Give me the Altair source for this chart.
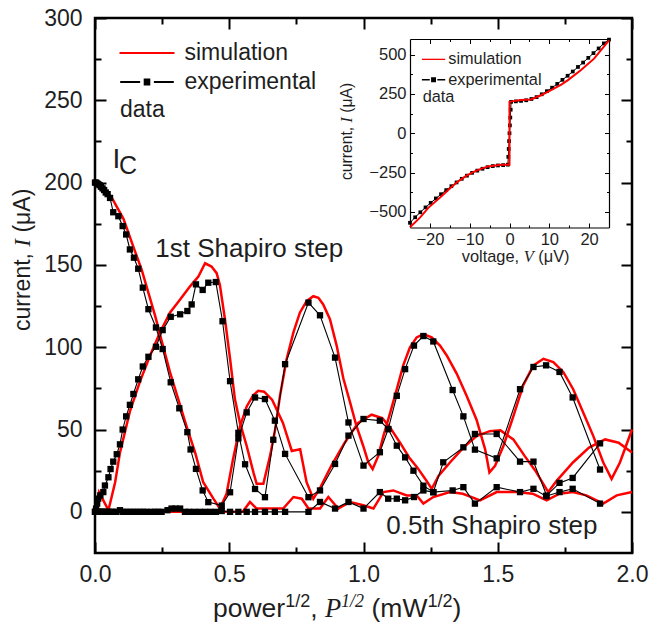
import altair as alt
import pandas as pd

# ---------------- main panel: simulation (red) ----------------
sim_ic_x = [0.0, 0.03, 0.062, 0.106, 0.143, 0.174, 0.199, 0.224, 0.248, 0.279, 0.31, 0.341, 0.373, 0.403,
            0.441, 0.465, 0.49, 0.514, 0.54, 0.565, 0.59, 0.608, 0.63, 0.66, 0.70, 0.733, 0.764, 0.788,
            0.813, 0.84, 0.88, 0.93, 0.98, 1.03, 1.07, 1.10, 1.136, 1.17, 1.2, 1.23, 1.254, 1.28, 1.322,
            1.372, 1.421, 1.47, 1.51, 1.558, 1.6, 1.64, 1.688, 1.72, 1.78, 1.84, 1.9, 1.95, 2.0]
sim_ic_y = [200, 197, 191, 178, 161, 147, 133, 119, 104, 85, 68.5, 52, 36, 18,
            8, 2, 11, 32, 52, 64, 71, 73.5, 73, 68, 54, 37, 38, 18,
            8, 15, 28, 42, 54, 59, 57, 51, 42, 33, 27, 20, 14, 22, 30,
            39, 46, 49, 49.5, 44, 34, 25, 12, 19, 30, 39, 44, 42, 36]

sim_s1_x = [0.0, 0.015, 0.05, 0.075, 0.093, 0.13, 0.167, 0.205, 0.242, 0.279, 0.317, 0.354, 0.385, 0.41,
            0.434, 0.453, 0.465, 0.484, 0.503, 0.521, 0.54, 0.565, 0.59, 0.602, 0.627, 0.652, 0.671,
            0.689, 0.714, 0.739, 0.763, 0.788, 0.813, 0.832, 0.85, 0.875, 0.9, 0.925, 0.95, 0.974,
            0.999, 1.018, 1.034, 1.055, 1.074, 1.099, 1.124, 1.148, 1.173, 1.198, 1.223, 1.254, 1.285,
            1.31, 1.347, 1.384, 1.421, 1.453, 1.469, 1.49, 1.521, 1.558, 1.595, 1.633, 1.67, 1.707,
            1.744, 1.781, 1.819, 1.856, 1.893, 1.924, 1.955, 2.0]
sim_s1_y = [0, 12, 1, 18, 36, 61, 79, 95, 109, 121, 129, 137, 143, 151,
            149, 145, 138, 117, 93, 68.5, 54, 40, 24, 17, 17, 34, 50,
            70.5, 93, 109, 121, 128, 131, 130, 126, 117, 101, 81, 66.5, 52,
            40, 30, 26, 34, 46, 60, 74.5, 89, 100, 106, 108, 106, 101,
            95, 84, 70.5, 56, 38, 24, 28, 40, 58, 77, 89, 93, 91,
            85, 74.5, 60, 46, 30, 20, 30, 50]

sim_half_x = [0.0, 0.3, 0.55, 0.577, 0.602, 0.701, 0.739, 0.77, 0.795, 0.838, 0.869, 0.906, 0.95, 0.999,
              1.037, 1.074, 1.111, 1.161, 1.198, 1.223, 1.26, 1.322, 1.37, 1.434, 1.496, 1.57, 1.63,
              1.682, 1.73, 1.78, 1.83, 1.893, 1.943, 2.0]
sim_half_y = [0, 0, 0, 6, 2, 2, 9, 8, 2, 2, 9, 2, 6, 4,
              2, 12, 13, 10, 10, 5, 9, 12, 11, 7, 12, 12, 11,
              7, 11, 12, 10, 5, 10, 12]

# ---------------- main panel: experimental data (black squares) ----------------
exp_ic_x = [0.0, 0.004, 0.008, 0.012, 0.017, 0.022, 0.028, 0.034, 0.04, 0.047, 0.056, 0.068, 0.087,
            0.103, 0.116, 0.13, 0.145, 0.161, 0.178, 0.199, 0.227, 0.252, 0.282, 0.314, 0.344, 0.356,
            0.376, 0.401, 0.422, 0.472, 0.503, 0.534, 0.565, 0.596, 0.633, 0.67, 0.708, 0.795, 0.838,
            0.894, 0.944, 1.0, 1.061, 1.092, 1.124, 1.155, 1.186, 1.223, 1.26, 1.297, 1.372, 1.415,
            1.496, 1.583, 1.633, 1.682, 1.73, 1.779, 1.881]
exp_ic_y = [200, 200, 199.5, 199, 198.5, 197.5, 196.5, 195.5, 194, 193, 190.7, 182, 179.6,
            173.6, 168.5, 159.4, 154.4, 147.7, 136.2, 123.1, 112, 98.9, 78.7, 62.9, 48.4, 37.9,
            26.1, 13, 5.9, 3.8, 11.9, 44.6, 60.4, 69.5, 68.5, 55.4, 35.2, 8.9, 13,
            29.1, 46.3, 56.4, 55.4, 50.3, 40.2, 33.1, 25, 15.9, 11.9, 30.1, 39.2, 47.3,
            47.3, 30.5, 30.5, 9.9, 17.6, 20.6, 41.6]

exp_s1_x = [0.0, 0.004, 0.008, 0.012, 0.02, 0.031, 0.037, 0.05, 0.058, 0.068, 0.081, 0.093, 0.103,
            0.116, 0.13, 0.143, 0.161, 0.178, 0.199, 0.227, 0.252, 0.282, 0.317, 0.344, 0.36, 0.376,
            0.401, 0.422, 0.45, 0.475, 0.503, 0.534, 0.559, 0.596, 0.633, 0.664, 0.708, 0.795, 0.838,
            0.894, 0.944, 1.0, 1.061, 1.092, 1.124, 1.155, 1.188, 1.223, 1.26, 1.332, 1.372, 1.415,
            1.496, 1.583, 1.633, 1.68, 1.73, 1.779, 1.881]
exp_s1_y = [0, 2, 5, 8, 10, 12, 16, 21, 26, 30.5, 35, 41, 50,
            58, 65, 71.6, 80.5, 88.3, 94.2, 100.3, 110.4, 118.5, 120, 122, 126, 138.2,
            134.8, 139.2, 139.6, 115.8, 79.4, 48, 28.9, 13.9, 8.9, 43.8, 89.7, 127.1, 119.4,
            93.7, 54.3, 28.1, 36.2, 50.3, 70.5, 86.7, 101, 106.8, 103.5, 74, 58, 37.8,
            32.5, 74.5, 88, 89, 85, 69.5, 25.7]

exp_half_x = [0.0, 0.004, 0.008, 0.012, 0.016, 0.02, 0.025, 0.031, 0.037, 0.043, 0.05, 0.059, 0.068,
              0.08, 0.093, 0.105, 0.118, 0.13, 0.143, 0.155, 0.168, 0.18, 0.192, 0.21, 0.223, 0.235,
              0.248, 0.27, 0.285, 0.3, 0.317, 0.335, 0.35, 0.37, 0.39, 0.41, 0.43, 0.45, 0.472, 0.503,
              0.534, 0.565, 0.596, 0.633, 0.67, 0.708, 0.795, 0.838, 0.894, 0.944, 1.0, 1.061, 1.092,
              1.124, 1.155, 1.188, 1.223, 1.26, 1.332, 1.372, 1.415, 1.496, 1.583, 1.633, 1.68, 1.73,
              1.779, 1.881]
exp_half_y = [0, 0, 0, 0, 0, 0, 0, 0, 0, 0, 0, 0, 0,
              0, 1, 0, 0, 0, 0, 0, 0, 0, 0, 0, 0, 0,
              0, 1, 2, 2, 2, 0, 0, 0, 0, 0, 0, 0, 0.5, 0,
              0, 0, 0, 0, 0, 0, 0, 6, 2, 6, 2, 12, 8,
              8, 7, 9, 13, 12, 13, 15, 5, 15, 12, 14, 9.5, 12,
              14, 5]

# ---------------- inset: I-V curve ----------------
inset_sim_v = [-25, -22.5, -20.4, -17.1, -15, -12.9, -10.8, -8.75, -7, -5.4, -3.5, -2.1, -0.5, 0, 0,
               0.5, 2.9, 5.4, 7.9, 9.5, 11.25, 13, 14.6, 17.9, 21.25, 25]
inset_sim_i = [-598, -537, -475, -401, -352, -306, -270, -243, -225, -211, -205, -201, -200, -200, 200,
               203, 211, 215, 242, 262, 285, 310, 337, 401, 475, 592]

inset_exp_v = [-25, -23.7, -22.4, -21.1, -19.8, -18.5, -17.2, -15.9, -14.6, -13.3, -12, -10.7, -9.4,
               -8.1, -6.8, -5.5, -4.2, -2.9, -1.6, -0.4, -0.3, -0.2, -0.1, 0, 0.1, 0.2, 0.3, 0.4,
               1.6, 2.9, 4.2, 5.5, 6.8, 8.1, 9.4, 10.7, 12, 13.3, 14.6, 15.9, 17.2, 18.5, 19.8,
               21.1, 22.4, 23.7, 25]
inset_exp_i = [-570, -535, -503, -472, -443, -415, -388, -362, -337, -313, -290, -270, -252,
               -238, -226, -216, -209, -205, -203, -200, -150, -100, -50, 0, 50, 100, 150, 200,
               203, 206, 210, 218, 230, 248, 268, 290, 314, 340, 366, 393, 422, 450, 480,
               510, 540, 572, 596]

legend_labels = ["simulation", "experimental"]

# ---------------- styling / layout ----------------
INK = "#1e1e1e"
RED = "#ff0000"
SANS = "Liberation Sans"
SERIF = "Liberation Serif"
W, H = 537, 535


def series(xs, ys, name):
    return pd.DataFrame({"x": xs, "y": ys, "step": name})


def stack(parts):
    df = pd.concat(parts, ignore_index=True)
    df["order"] = range(len(df))
    return df


sim_df = stack([series(sim_ic_x, sim_ic_y, "ic"), series(sim_s1_x, sim_s1_y, "s1"),
                series(sim_half_x, sim_half_y, "half")])
exp_df = stack([series(exp_ic_x, exp_ic_y, "ic"), series(exp_s1_x, exp_s1_y, "s1"),
                series(exp_half_x, exp_half_y, "half")])
isim_df = stack([series(inset_sim_v, inset_sim_i, "sim")])
iexp_df = stack([series(inset_exp_v, inset_exp_i, "exp")])
one = pd.DataFrame({"k": [0]})
host_df = pd.DataFrame({"v": [0.0]})

mx = alt.Scale(domain=[0, 2], nice=False, zero=False)
my = alt.Scale(domain=[-25, 300], nice=False, zero=False)
ix = alt.Scale(domain=[-25, 25], range=[315, 514], nice=False, zero=False)
iy = alt.Scale(domain=[-600, 600], range=[209.5, 21], nice=False, zero=False)


def label_axis(orient, values, size, pad, offset=0, domain=False, fmt=None):
    kw = dict(orient=orient, values=values, labelFontSize=size, labelFont=SANS, labelColor=INK,
              labelPadding=pad, ticks=False, tickSize=0, domain=domain, grid=False, title=None,
              labelFlush=False, offset=offset, domainColor="black", domainWidth=1.2)
    if fmt:
        kw["format"] = fmt
    return alt.Axis(**kw)


ax_mx = label_axis("bottom", [0, 0.5, 1, 1.5, 2], 23, 10, fmt=".1f")
ax_my = label_axis("left", [0, 50, 100, 150, 200, 250, 300], 23, 13)
ax_ix = label_axis("bottom", [-20, -10, 0, 10, 20], 16.5, 4, offset=-(H - 209.5), domain=True)
ax_iy = label_axis("left", [-500, -250, 0, 250, 500], 16.5, 4, offset=-315, domain=True)

MX = alt.X("x:Q", scale=mx, axis=ax_mx)
MY = alt.Y("y:Q", scale=my, axis=ax_my)
IX = alt.X("x:Q", scale=ix, axis=ax_ix)
IY = alt.Y("y:Q", scale=iy, axis=ax_iy)


def note(text, xv, yv, size, sx, sy, axx, axy, font=SANS):
    return alt.Chart(one).mark_text(text=text, fontSize=size, font=font, color=INK, align="left",
                                    baseline="alphabetic").encode(
        x=alt.XDatum(xv, scale=sx, axis=axx), y=alt.YDatum(yv, scale=sy, axis=axy))


# main panel
sim_lines = alt.Chart(sim_df).mark_line(color=RED, strokeWidth=2.5).encode(
    MX, MY, detail="step:N", order="order:Q")
exp_lines = alt.Chart(exp_df).mark_line(color="black", strokeWidth=1.1).encode(
    MX, MY, detail="step:N", order="order:Q")
exp_pts = alt.Chart(exp_df).mark_square(color="black", size=40, opacity=1).encode(MX, MY)
main = alt.layer(
    sim_lines, exp_lines, exp_pts,
    note("I", 0.065, 209, 28, mx, my, ax_mx, ax_my),
    note("C", 0.089, 205, 25, mx, my, ax_mx, ax_my),
    note("1st Shapiro step", 0.2245, 155, 26, mx, my, ax_mx, ax_my),
    note("0.5th Shapiro step", 1.085, -13.5, 26, mx, my, ax_mx, ax_my),
    note("data", 0.093, 240, 23, mx, my, ax_mx, ax_my),
)

# inset panel
i_exp_line = alt.Chart(iexp_df).mark_line(color="black", strokeWidth=1).encode(IX, IY, order="order:Q")
i_exp_pts = alt.Chart(iexp_df).mark_square(color="black", size=14, opacity=1).encode(IX, IY)
i_sim_line = alt.Chart(isim_df).mark_line(color=RED, strokeWidth=2).encode(IX, IY, order="order:Q")
inset = alt.layer(i_exp_line, i_exp_pts, i_sim_line,
                  note("data", -21.8, 198, 16.3, ix, iy, ax_ix, ax_iy))


# inward ticks / frames
def tick_host(channel, scale, orient, offset, values, size, width, domain=False):
    ax = alt.Axis(orient=orient, offset=offset, values=values, tickSize=size, tickWidth=width,
                  tickColor="black", labels=False, domain=domain, domainColor="black",
                  domainWidth=1.2, grid=False, title=None)
    enc = alt.X("v:Q", scale=scale, axis=ax) if channel == "x" else alt.Y("v:Q", scale=scale, axis=ax)
    return alt.Chart(host_df).mark_point(opacity=0).encode(**{channel: enc})


mxM, mxm = [0, 0.5, 1, 1.5, 2], [0.25, 0.75, 1.25, 1.75]
myM, mym = [0, 50, 100, 150, 200, 250, 300], [25, 75, 125, 175, 225, 275]
ixM, ixm = [-20, -10, 0, 10, 20], [-15, -5, 5, 15]
iyM, iym = [-500, -250, 0, 250, 500], [-375, -125, 125, 375]

hosts = [
    tick_host("x", mx, "top", -H, mxM, 11, 2), tick_host("x", mx, "top", -H, mxm, 6, 2),
    tick_host("x", mx, "bottom", -H, mxM, 11, 2), tick_host("x", mx, "bottom", -H, mxm, 6, 2),
    tick_host("y", my, "right", -W, myM, 11, 2), tick_host("y", my, "right", -W, mym, 6, 2),
    tick_host("y", my, "left", -W, myM, 11, 2), tick_host("y", my, "left", -W, mym, 6, 2),
    tick_host("x", ix, "top", -209.5, ixM, 4.5, 1), tick_host("x", ix, "top", -209.5, ixm, 2.5, 1),
    tick_host("x", ix, "bottom", 21 - H, ixM, 4.5, 1, domain=True),
    tick_host("x", ix, "bottom", 21 - H, ixm, 2.5, 1),
    tick_host("y", iy, "right", 315 - W, iyM, 4.5, 1), tick_host("y", iy, "right", 315 - W, iym, 2.5, 1),
    tick_host("y", iy, "left", -514, iyM, 4.5, 1, domain=True),
    tick_host("y", iy, "left", -514, iym, 2.5, 1),
]

# legends (symbols are custom paths: a red line, and line-square-line)
sq = "M-0.48,-0.35H0.48M-0.48,-0.12H0.48M-0.48,0.12H0.48M-0.48,0.35H0.48"
main_paths = ["M-4,0H4", "M-3.9,0H-1M1,0H3.9" + sq]
sq_i = "M-0.85,-0.6H0.85M-0.85,-0.2H0.85M-0.85,0.2H0.85M-0.85,0.6H0.85"
inset_paths = ["M-4,0H4", "M-4,0H-1.3M1.3,0H4" + sq_i]


def legend_layer(field, paths, lx, ly, size, font, offset, rowpad, sw):
    df = pd.DataFrame({field: legend_labels})
    lg = alt.Legend(orient="none", legendX=lx, legendY=ly, title=None, symbolSize=size,
                    symbolStrokeWidth=sw, symbolOpacity=1, labelFontSize=font, labelFont=SANS,
                    labelColor=INK, labelOffset=offset, rowPadding=rowpad, padding=0)
    return alt.Chart(df).mark_point(filled=False, opacity=0).encode(
        color=alt.Color(f"{field}:N", scale=alt.Scale(domain=legend_labels, range=[RED, "black"]), legend=lg),
        shape=alt.Shape(f"{field}:N", scale=alt.Scale(domain=legend_labels, range=paths), legend=lg),
    )


leg_main = legend_layer("series_main", main_paths, 40.5, 23.5, 189, 23, 26, 5, 2)
leg_inset = legend_layer("series_inset", inset_paths, 330.4, 33.2, 34, 16.3, 6.6, 3.4, 1.3)

# axis titles assembled from pieces (superscripts, italic symbols); None = a word space
AW = {"p": 556, "o": 556, "w": 722, "e": 556, "r": 333, ",": 278, " ": 278, "(": 333, ")": 333,
      "m": 833, "W": 944, "1": 556, "/": 278, "2": 556, "c": 500, "u": 556, "n": 556, "t": 278,
      "\u03bc": 576, "A": 667, "v": 500, "l": 222, "a": 556, "g": 556, "V": 667}
TW = {"P": 611, "I": 333, "V": 611, "1": 500, "/": 278, "2": 500}


def text_width(s, size, italic):
    table = TW if italic else AW
    return sum(table.get(ch, 556) for ch in s) * size / 1000.0


def title_pieces(pieces, x0, y0, rotate=False):
    out, off = [], 0.0
    for text, size, italic, rise in pieces:
        if text is None:
            off += 0.278 * size
            continue
        kw = dict(text=text, fontSize=size, font=SERIF if italic else SANS,
                  fontStyle="italic" if italic else "normal", align="left",
                  baseline="alphabetic", color=INK)
        if rotate:
            kw["angle"] = 270
            x, y = x0 - rise, y0 - off
        else:
            x, y = x0 + off, y0 - rise
        out.append(alt.Chart(one).mark_text(**kw).encode(x=alt.value(x), y=alt.value(y)))
        off += text_width(text, size, italic)
    return out


titles = []
titles += title_pieces([("power", 26.5, False, 0), ("1/2", 18, False, 10.5), (",", 26.5, False, 0),
                        (None, 26.5, False, 0), ("P", 26.5, True, 0), ("1/2", 18, True, 10.5),
                        (None, 26.5, False, 0), ("(mW", 26.5, False, 0), ("1/2", 18, False, 10.5),
                        (")", 26.5, False, 0)], 118, 599)
titles += title_pieces([("current,", 23, False, 0), (None, 23, False, 0), ("I", 23, True, 0),
                        (None, 23, False, 0), ("(\u03bcA)", 23, False, 0)], -65, 313, rotate=True)
titles += title_pieces([("current,", 15.7, False, 0), (None, 15.7, False, 0), ("I", 15.7, True, 0),
                        (None, 15.7, False, 0), ("(\u03bcA)", 15.7, False, 0)], 257, 162, rotate=True)
titles += title_pieces([("voltage,", 16.4, False, 0), (None, 16.4, False, 0), ("V", 16.4, True, 0),
                        (None, 16.4, False, 0), ("(\u03bcV)", 16.4, False, 0)], 366.7, 243.5)

chart = alt.layer(main, *hosts, inset, leg_main, leg_inset, *titles).resolve_scale(
    x="independent", y="independent", color="independent", shape="independent"
).resolve_axis(x="independent", y="independent").resolve_legend(
    color="independent", shape="independent"
).properties(
    width=W, height=H, autosize=alt.AutoSizeParams(type="none"),
    padding={"left": 95, "top": 18, "right": 18, "bottom": 81}, background="white"
).configure_view(stroke="black", strokeWidth=2.5)

chart.save("out.html", embed_options={"renderer": "svg", "actions": False})
